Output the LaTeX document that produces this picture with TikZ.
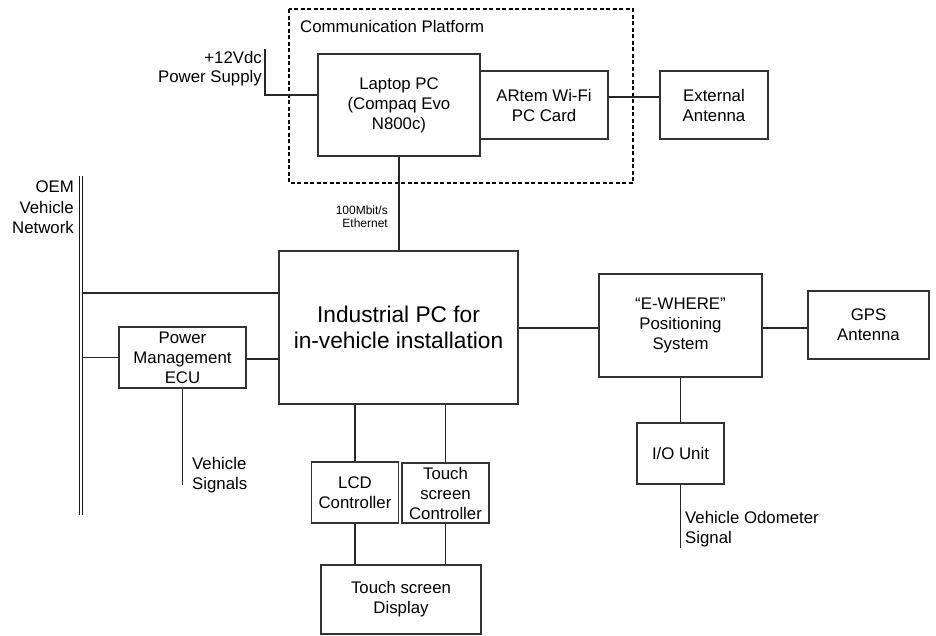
\documentclass[tikz,border=0pt]{standalone}
\usepackage{fontspec}
\setmainfont{Liberation Sans}
\begin{document}
\begin{tikzpicture}[x=1pt,y=-1pt,
  every node/.style={inner sep=0pt, text=black},
  lbl/.style={font=\fontsize{16.8}{20}\selectfont},
  box/.style={draw=black!80, line width=1.2pt, align=center, lbl},
  wire/.style={draw=black!85, line width=1.2pt},
  small/.style={font=\fontsize{12}{13.4}\selectfont}]
\useasboundingbox (0,0) rectangle (936,635);
% communication platform frame
\draw[black, line width=1.3pt, dash pattern=on 4pt off 2.5pt] (289,9) rectangle (633,183);
\node[lbl, anchor=west] (cplabel) at (300,26) {Communication Platform};
% boxes
\node[box, minimum width=162pt, minimum height=102pt] (laptop) at (399,105) {Laptop PC\\(Compaq Evo\\N800c)};
\node[box, minimum width=128pt, minimum height=68pt] (card) at (544,105) {ARtem Wi-Fi\\PC Card};
\node[box, minimum width=108pt, minimum height=68pt] (ext) at (714,105) {External\\Antenna};
\node[box, minimum width=239pt, minimum height=153pt, font=\fontsize{22.7}{26}\selectfont] (ipc) at (398.5,327.5) {Industrial PC for\\in-vehicle installation};
\node[box, minimum width=127pt, minimum height=61pt] (ecu) at (182.5,357.5) {Power\\Management\\ECU};
\node[box, minimum width=163pt, minimum height=103pt] (pos) at (680.5,325.5) {“E-WHERE”\\Positioning\\System};
\node[box, minimum width=121pt, minimum height=68pt] (gps) at (868.5,325) {GPS\\Antenna};
\node[box, minimum width=87pt, minimum height=61pt] (io) at (680.5,453.5) {I/O Unit};
\node[box, minimum width=87pt, minimum height=61pt] (lcd) at (355,492.5) {LCD\\Controller};
\node[box, minimum width=87pt, minimum height=60pt] (tsc) at (445.5,493) {Touch\\screen\\Controller};
\node[box, minimum width=160pt, minimum height=69pt] (disp) at (401,599.5) {Touch screen\\Display};
% labels
\node[lbl, align=right, anchor=east, font=\fontsize{16.8}{18.5}\selectfont] (pwlabel) at (262,68.5) {+12Vdc\\Power Supply};
\node[lbl, align=right, anchor=east, font=\fontsize{16.8}{20.5}\selectfont] (oemlabel) at (74,207.5) {OEM\\Vehicle\\Network};
\node[small, align=right, anchor=east] (ethlabel) at (388,216.5) {100Mbit/s\\Ethernet};
\node[lbl, align=left, anchor=west] (vslabel) at (192,475.5) {Vehicle\\Signals};
\node[lbl, align=left, anchor=west] (odolabel) at (685,529.5) {Vehicle Odometer\\Signal};
% free end coordinates
\coordinate (pwtop) at (265,49);
\coordinate (pwy) at (0,95);
\coordinate (cardy) at (0,97);
\coordinate (bustop) at (81,176);
\coordinate (busbot) at (81,515);
\coordinate (b1) at (82.5,293);
\coordinate (b2) at (82.5,357.5);
\coordinate (ecuy) at (0,359);
\coordinate (vsend) at (182.5,485);
\coordinate (posy) at (0,328);
\coordinate (odoend) at (680.5,548);
% bus
\draw[black!90, line width=1pt, double=white, double distance=2pt] (bustop) -- (busbot);
% connectors
\draw[wire] (pwtop) |- (laptop.west |- pwy);
\draw[wire] (card.east |- cardy) -- (ext.west |- cardy);
\draw[wire] (laptop.south) -- (laptop.south |- ipc.north);
\draw[wire] (b1) -- (b1 -| ipc.west);
\draw[wire] (b2) -- (ecu.west);
\draw[wire] (ecu.east |- ecuy) -- (ipc.west |- ecuy);
\draw[wire] (ecu.south) -- (vsend);
\draw[wire] (lcd.north |- ipc.south) -- (lcd.north);
\draw[wire] (tsc.north |- ipc.south) -- (tsc.north);
\draw[wire] (lcd.south) -- (lcd.south |- disp.north);
\draw[wire] (tsc.south) -- (tsc.south |- disp.north);
\draw[wire] (ipc.east |- posy) -- (pos.west |- posy);
\draw[wire] (pos.east |- posy) -- (gps.west |- posy);
\draw[wire] (pos.south) -- (io.north);
\draw[wire] (io.south) -- (odoend);
\end{tikzpicture}
\end{document}
